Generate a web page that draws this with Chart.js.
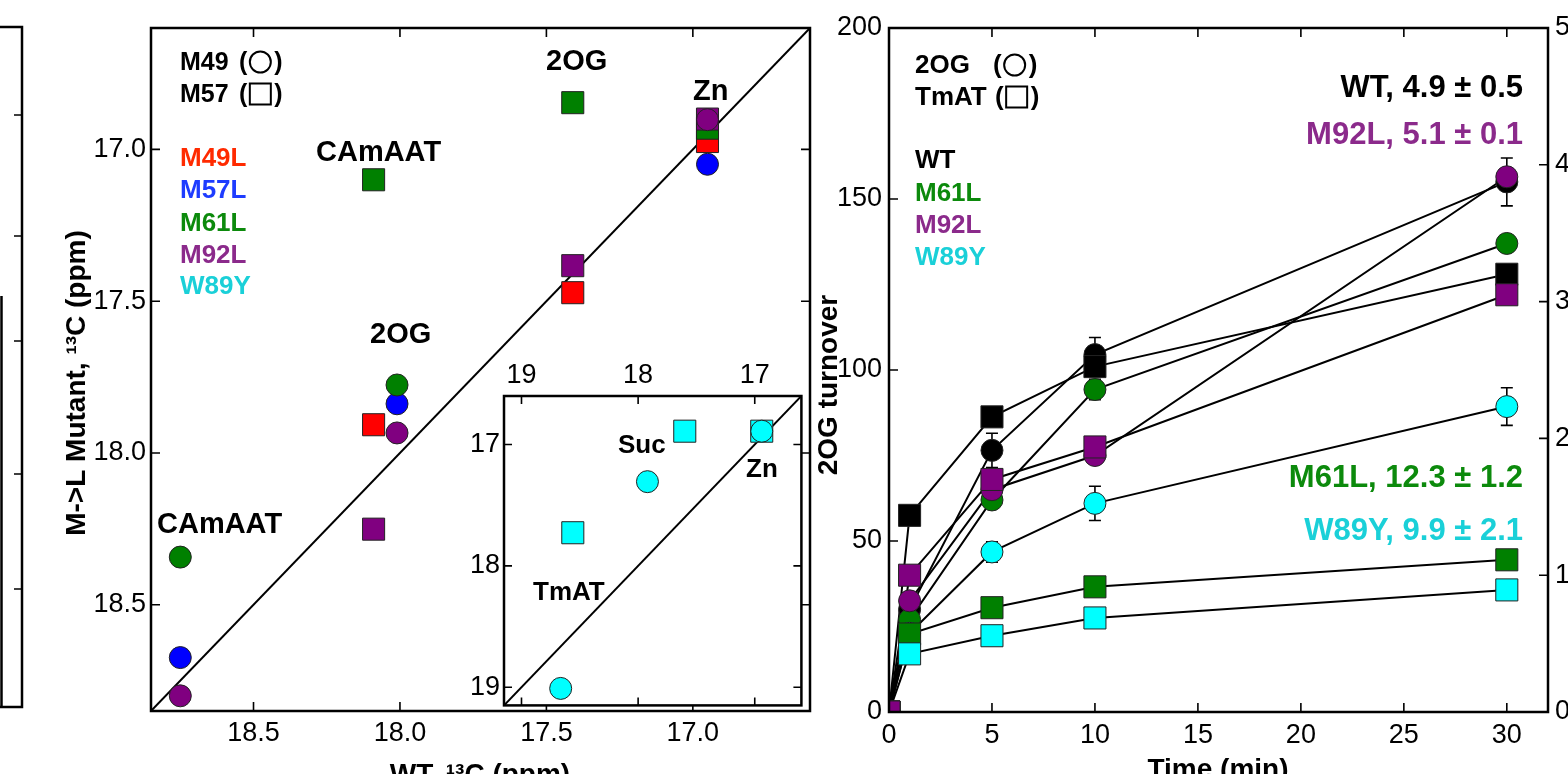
<!DOCTYPE html>
<html>
<head>
<meta charset="utf-8">
<title>M-&gt;L mutants: 13C shifts and 2OG turnover</title>
<script src="https://cdn.jsdelivr.net/npm/chart.js@4.4.1/dist/chart.umd.min.js"></script>
<style>
  html, body { margin: 0; padding: 0; background: #fff; overflow: hidden; }
  body { position: relative; width: 1568px; height: 774px; }
  canvas { position: absolute; }
</style>
</head>
<body>
<canvas id="shifts" width="840" height="774" style="left:0;top:0"></canvas>
<canvas id="inset" width="358" height="362" style="left:460px;top:360px"></canvas>
<canvas id="turnover" width="756" height="774" style="left:812px;top:0"></canvas>
<script>
const FONT = '"Liberation Sans", Arial, Helvetica, sans-serif';

// ---- 13C shift panel (ppm), WT on x, mutant on y ----
const shiftTicks = [18.5, 18.0, 17.5, 17.0];
const shiftMin = 16.6, shiftMax = 18.85;
// M49 resonance (circles): CAmAAT, 2OG, Zn
const m49WT   = [18.75, 18.01, 16.95];
const m49M57L = [18.674, 17.838, 17.049];
const m49M61L = [18.343, 17.776, null];
const m49M92L = [18.80, 17.934, 16.902];
// M57 resonance (squares): CAmAAT, 2OG, Zn
const m57WT   = [18.09, 17.41, 16.95];
const m57M49L = [17.907, 17.472, 16.974];
const m57M61L = [17.10, 16.846, 16.93];
const m57M92L = [18.251, 17.383, 16.90];

// inset: W89Y (TmAT, Suc, Zn)
const insetTicks = [19, 18, 17];
const insetMin = 16.6, insetMax = 19.15;
const w89yCircWT  = [18.664, 17.92, 16.94];
const w89yCircMut = [19.01, 17.306, 16.89];
const w89ySqWT    = [18.56, 17.60, 16.94];
const w89ySqMut   = [17.727, 16.89, 16.89];

// ---- 2OG turnover panel ----
const times = [0, 1, 5, 10, 30];
const timeTicks = [0, 5, 10, 15, 20, 25, 30];
const turnTicks = [0, 50, 100, 150, 200];
const rightTicks = [0, 1, 2, 3, 4, 5];
const wt2OG       = [0, 30, 76.5, 104.5, 155];
const wt2OGErr    = [0, 0, 5, 5, 7];
const wtTmAT      = [0, 57.5, 86.3, 101, 128];
const m61l2OG     = [0, 27, 62, 94.3, 137];
const m61l2OGErr  = [0, 0, 0, 3, 0];
const m61lTmAT    = [0, 22.8, 30.5, 36.6, 44.5];
const m92l2OG     = [0, 32.5, 65, 75, 156.5];
const m92lTmAT    = [0, 40, 68, 77.5, 122];
const w89y2OG     = [0, 23, 46.8, 61, 89.3];
const w89y2OGErr  = [0, 0, 3, 5, 5.5];
const w89yTmAT    = [0, 17, 22.3, 27.5, 35.7];
const w89yTmATErr = [0, 0, 0, 0, 1.5];

const RED = '#ff0000', BLUE = '#0000ff', GREEN = '#008000', PURPLE = '#800080', CYAN = '#00ffff', BLACK = '#000000';
const TXT = { red: '#ff2a00', blue: '#1e3cff', green: '#0c8a0c', purple: '#8b2a8b', cyan: '#1ad0d8', black: '#000' };

function pairs(xs, ys) {
  return xs.map((x, i) => ({ x: x, y: ys[i] })).filter(p => p.y !== null);
}
function markers(data, color, shape, extra) {
  return Object.assign({
    data: data, showLine: false, order: 0,
    pointStyle: shape, pointRadius: shape === 'rect' ? 15.6 : 11,
    pointHoverRadius: shape === 'rect' ? 15.6 : 11,
    backgroundColor: color, borderColor: '#222', borderWidth: 1
  }, extra || {});
}
function lineOf(xs, ys) {
  return { data: pairs(xs, ys), showLine: true, pointRadius: 0, pointHoverRadius: 0,
           borderColor: '#000', borderWidth: 2, order: 1 };
}
// fixed axis thickness, no extra label overhang padding
function fixed(px) {
  return s => {
    if (s.isHorizontal()) s.height = px; else s.width = px;
    s.paddingTop = s.paddingBottom = s.paddingLeft = s.paddingRight = 0;
  };
}
function useTicks(list) {
  return s => { s.ticks = list.map(v => ({ value: v })); };
}
const tickFont = { size: 27, family: FONT };
function axis(extra) {
  return Object.assign({
    type: 'linear',
    grid: { display: false, drawTicks: false },
    border: { display: false },
    ticks: { color: '#000', font: tickFont, padding: 7 }
  }, extra);
}

// border box + inward tick marks
const frame = {
  id: 'frame',
  beforeDraw(chart, args, o) {
    if (!o.fill) return;
    const a = chart.chartArea, ctx = chart.ctx;
    ctx.save(); ctx.fillStyle = '#fff';
    ctx.fillRect(a.left, a.top, a.right - a.left, a.bottom - a.top);
    ctx.restore();
  },
  afterDraw(chart, args, o) {
    const a = chart.chartArea, ctx = chart.ctx, len = o.len || 9;
    ctx.save();
    ctx.strokeStyle = '#000';
    ctx.lineWidth = 1.6;
    ctx.beginPath();
    Object.keys(o.sides || {}).forEach(id => {
      const s = chart.scales[id];
      s.ticks.forEach(t => {
        const p = s.getPixelForValue(t.value);
        o.sides[id].forEach(side => {
          if (side === 'bottom') { ctx.moveTo(p, a.bottom); ctx.lineTo(p, a.bottom - len); }
          if (side === 'top')    { ctx.moveTo(p, a.top);    ctx.lineTo(p, a.top + len); }
          if (side === 'left')   { ctx.moveTo(a.left, p);   ctx.lineTo(a.left + len, p); }
          if (side === 'right')  { ctx.moveTo(a.right, p);  ctx.lineTo(a.right - len, p); }
        });
      });
    });
    ctx.stroke();
    ctx.lineWidth = o.width || 2.5;
    ctx.strokeRect(a.left, a.top, a.right - a.left, a.bottom - a.top);
    ctx.restore();
  }
};

// free text (page coordinates), optional (○)/(□) key
const notes = {
  id: 'notes',
  afterDraw(chart, args, o) {
    const ctx = chart.ctx;
    const ox = chart.canvas.offsetLeft, oy = chart.canvas.offsetTop;
    ctx.save();
    (o.items || []).forEach(n => {
      ctx.font = 'bold ' + (n.size || 26) + 'px ' + FONT;
      ctx.fillStyle = n.color || '#000';
      ctx.textAlign = n.align || 'left';
      ctx.textBaseline = n.base || 'alphabetic';
      const x = n.x - ox, y = n.y - oy;
      if (n.rot) {
        ctx.save(); ctx.translate(x, y); ctx.rotate(n.rot); ctx.fillText(n.text, 0, 0); ctx.restore();
      } else {
        ctx.fillText(n.text, x, y);
      }
      if (n.sym) {
        const px = n.px - ox;
        ctx.textAlign = 'left';
        ctx.fillText('(', px, y);
        const w = ctx.measureText('(').width;
        const cx = px + w + 13, cy = y - 8;
        ctx.strokeStyle = '#000'; ctx.lineWidth = 2;
        ctx.beginPath();
        if (n.sym === 'circle') ctx.arc(cx, cy, 10.5, 0, Math.PI * 2);
        else ctx.rect(cx - 10.5, cy - 10.5, 21, 21);
        ctx.stroke();
        ctx.fillText(')', cx + 14, y);
      }
    });
    ctx.restore();
  }
};

// edge of the neighbouring panel, cut off at the page border
const fragment = {
  id: 'fragment',
  afterDraw(chart) {
    const ctx = chart.ctx;
    ctx.save();
    ctx.strokeStyle = '#000'; ctx.lineWidth = 2.5;
    ctx.strokeRect(-10, 27, 32, 680);
    ctx.beginPath(); ctx.moveTo(1.5, 296); ctx.lineTo(1.5, 707); ctx.stroke();
    ctx.lineWidth = 1.5; ctx.beginPath();
    [115, 236, 341, 474, 589].forEach(y => { ctx.moveTo(22, y); ctx.lineTo(14, y); });
    ctx.stroke();
    ctx.restore();
  }
};

// vertical error bars with caps, drawn under the markers
const errbars = {
  id: 'errbars',
  beforeDatasetsDraw(chart) {
    const ctx = chart.ctx, xs = chart.scales.x, ys = chart.scales.y;
    ctx.save(); ctx.strokeStyle = '#000'; ctx.lineWidth = 1.6;
    chart.data.datasets.forEach(ds => {
      if (!ds.err) return;
      ds.data.forEach((p, i) => {
        const e = ds.err[i];
        if (!e) return;
        const x = xs.getPixelForValue(p.x);
        const y1 = ys.getPixelForValue(p.y - e), y2 = ys.getPixelForValue(p.y + e);
        ctx.beginPath();
        ctx.moveTo(x, y1); ctx.lineTo(x, y2);
        ctx.moveTo(x - 6, y1); ctx.lineTo(x + 6, y1);
        ctx.moveTo(x - 6, y2); ctx.lineTo(x + 6, y2);
        ctx.stroke();
      });
    });
    ctx.restore();
  }
};

const base = {
  responsive: false, animation: false, devicePixelRatio: 1, events: [],
  plugins: { legend: { display: false }, tooltip: { enabled: false } }
};

// ---------- shift panel ----------
new Chart(document.getElementById('shifts'), {
  type: 'scatter',
  data: {
    datasets: [
      markers(pairs(m49WT, m49M92L), PURPLE, 'circle'),
      markers(pairs(m57WT, m57M92L), PURPLE, 'rect'),
      markers(pairs(m57WT, m57M61L), GREEN, 'rect'),
      markers(pairs(m49WT, m49M61L), GREEN, 'circle'),
      markers(pairs(m57WT, m57M49L), RED, 'rect'),
      markers(pairs(m49WT, m49M57L), BLUE, 'circle'),
      lineOf([shiftMax, shiftMin], [shiftMax, shiftMin])
    ]
  },
  options: Object.assign({}, base, {
    layout: { padding: { top: 28, right: 30, left: 0, bottom: 0 } },
    scales: {
      x: axis({ min: shiftMin, max: shiftMax, reverse: true, afterBuildTicks: useTicks(shiftTicks), afterFit: fixed(63),
                ticks: { color: '#000', font: tickFont, padding: 6, callback: v => v.toFixed(1) } }),
      y: axis({ min: shiftMin, max: shiftMax, reverse: true, afterBuildTicks: useTicks(shiftTicks), afterFit: fixed(151),
                ticks: { color: '#000', font: tickFont, padding: 5, callback: v => v.toFixed(1) } })
    },
    plugins: Object.assign({}, base.plugins, {
      frame: { sides: { x: ['bottom', 'top'], y: ['left', 'right'] }, len: 9, width: 2.5 },
      notes: { items: [
        { text: 'M49', x: 180, y: 70, size: 25, sym: 'circle', px: 239 },
        { text: 'M57', x: 180, y: 102, size: 25, sym: 'rect', px: 239 },
        { text: 'M49L', x: 180, y: 166, color: TXT.red },
        { text: 'M57L', x: 180, y: 198, color: TXT.blue },
        { text: 'M61L', x: 180, y: 231, color: TXT.green },
        { text: 'M92L', x: 180, y: 263, color: TXT.purple },
        { text: 'W89Y', x: 180, y: 294, color: TXT.cyan },
        { text: 'CAmAAT', x: 316, y: 161, size: 29 },
        { text: '2OG', x: 546, y: 70, size: 29 },
        { text: 'Zn', x: 693, y: 100, size: 29 },
        { text: '2OG', x: 370, y: 343, size: 29 },
        { text: 'CAmAAT', x: 157, y: 533, size: 29 },
        { text: 'M->L Mutant, \u00b9\u00b3C (ppm)', x: 77, y: 383, size: 28, rot: -Math.PI / 2, align: 'center', base: 'middle' },
        { text: 'WT, \u00b9\u00b3C (ppm)', x: 480, y: 783, size: 28, align: 'center' }
      ] }
    })
  }),
  plugins: [frame, notes, fragment]
});

// ---------- inset (W89Y) ----------
new Chart(document.getElementById('inset'), {
  type: 'scatter',
  data: {
    datasets: [
      markers(pairs(w89yCircWT, w89yCircMut), CYAN, 'circle'),
      markers(pairs(w89ySqWT, w89ySqMut), CYAN, 'rect'),
      lineOf([insetMax, insetMin], [insetMax, insetMin])
    ]
  },
  options: Object.assign({}, base, {
    layout: { padding: { top: 0, right: 4, left: 0, bottom: 3 } },
    scales: {
      x: axis({ position: 'top', min: insetMin, max: insetMax, reverse: true, afterBuildTicks: useTicks(insetTicks), afterFit: fixed(36),
                ticks: { color: '#000', font: tickFont, padding: 4 } }),
      y: axis({ min: insetMin, max: insetMax, reverse: true, afterBuildTicks: useTicks(insetTicks), afterFit: fixed(44),
                ticks: { color: '#000', font: tickFont, padding: 4 } })
    },
    plugins: Object.assign({}, base.plugins, {
      frame: { sides: { x: ['bottom', 'top'], y: ['left', 'right'] }, len: 8, width: 2.5, fill: true },
      notes: { items: [
        { text: 'Suc', x: 618, y: 453 },
        { text: 'Zn', x: 746, y: 477 },
        { text: 'TmAT', x: 533, y: 600 }
      ] }
    })
  }),
  plugins: [frame, notes]
});

// ---------- 2OG turnover ----------
const clipped = { clip: 0 };
new Chart(document.getElementById('turnover'), {
  type: 'scatter',
  data: {
    datasets: [
      markers(pairs(times, m92lTmAT), PURPLE, 'rect', clipped),
      markers(pairs(times, m92l2OG), PURPLE, 'circle', clipped),
      markers(pairs(times, w89yTmAT), CYAN, 'rect', Object.assign({ err: w89yTmATErr }, clipped)),
      markers(pairs(times, m61lTmAT), GREEN, 'rect', clipped),
      markers(pairs(times, wtTmAT), BLACK, 'rect', clipped),
      markers(pairs(times, w89y2OG), CYAN, 'circle', Object.assign({ err: w89y2OGErr }, clipped)),
      markers(pairs(times, m61l2OG), GREEN, 'circle', Object.assign({ err: m61l2OGErr }, clipped)),
      markers(pairs(times, wt2OG), BLACK, 'circle', Object.assign({ err: wt2OGErr }, clipped)),
      lineOf(times, m92lTmAT), lineOf(times, m92l2OG),
      lineOf(times, w89yTmAT), lineOf(times, m61lTmAT), lineOf(times, wtTmAT),
      lineOf(times, w89y2OG), lineOf(times, m61l2OG), lineOf(times, wt2OG)
    ]
  },
  options: Object.assign({}, base, {
    layout: { padding: { top: 28, right: 0, left: 0, bottom: 0 } },
    scales: {
      x: axis({ min: 0, max: 32, afterBuildTicks: useTicks(timeTicks), afterFit: fixed(62) }),
      y: axis({ position: 'left', min: 0, max: 200, afterBuildTicks: useTicks(turnTicks), afterFit: fixed(77) }),
      y2: axis({ position: 'right', min: 0, max: 5, afterBuildTicks: useTicks(rightTicks), afterFit: fixed(20) })
    },
    plugins: Object.assign({}, base.plugins, {
      frame: { sides: { x: ['bottom', 'top'], y: ['left'], y2: ['right'] }, len: 9, width: 2.5 },
      notes: { items: [
        { text: '2OG', x: 915, y: 73, sym: 'circle', px: 993 },
        { text: 'TmAT', x: 915, y: 105, sym: 'rect', px: 995 },
        { text: 'WT', x: 915, y: 168, color: TXT.black },
        { text: 'M61L', x: 915, y: 201, color: TXT.green },
        { text: 'M92L', x: 915, y: 233, color: TXT.purple },
        { text: 'W89Y', x: 915, y: 265, color: TXT.cyan },
        { text: 'WT, 4.9 \u00b1 0.5', x: 1523, y: 97, size: 31, align: 'right' },
        { text: 'M92L, 5.1 \u00b1 0.1', x: 1523, y: 144, size: 31, align: 'right', color: TXT.purple },
        { text: 'M61L, 12.3 \u00b1 1.2', x: 1523, y: 487, size: 31, align: 'right', color: TXT.green },
        { text: 'W89Y, 9.9 \u00b1 2.1', x: 1523, y: 540, size: 31, align: 'right', color: TXT.cyan },
        { text: '2OG turnover', x: 829, y: 385, size: 28, rot: -Math.PI / 2, align: 'center', base: 'middle' },
        { text: 'Time (min)', x: 1218, y: 778, size: 28, align: 'center' }
      ] }
    })
  }),
  plugins: [frame, errbars, notes]
});
</script>
</body>
</html>
